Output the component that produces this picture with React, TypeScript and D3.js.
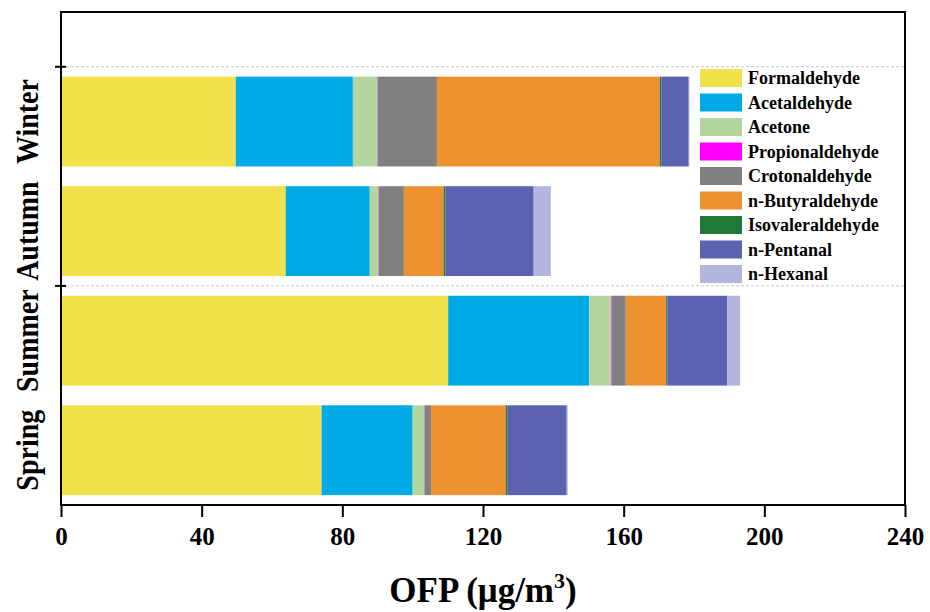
import React, { useEffect, useRef } from 'react';
import * as d3 from 'd3';

const seasons = ['Spring', 'Summer', 'Autumn', 'Winter'];
const compounds = ['Formaldehyde', 'Acetaldehyde', 'Acetone', 'Propionaldehyde', 'Crotonaldehyde',
  'n-Butyraldehyde', 'Isovaleraldehyde', 'n-Pentanal', 'n-Hexanal'];
const compoundColors = ['#f2e14b', '#00aae6', '#b3d69e', '#ff00ff', '#808080',
  '#ee9231', '#1f7a3a', '#5b63b0', '#b4b6dd'];

// OFP per compound, in the order of `compounds`
const spring = [74.1, 25.9, 3.3, 0.1, 1.8, 21.3, 0.5, 16.8, 0.3];
const summer = [110.1, 40.1, 6.3, 0.2, 3.9, 11.5, 0.3, 17.0, 3.7];
const autumn = [63.9, 23.9, 2.5, 0.1, 7.1, 11.3, 0.5, 25.1, 4.9];
const winter = [49.7, 33.3, 7.0, 0.1, 16.8, 63.4, 0.4, 7.8, 0.2];

const xTicks = [0, 40, 80, 120, 160, 200, 240];

const W = 930, H = 612;
const margin = { left: 61, right: 25, top: 12, bottom: 107 };

export default function App() {
  const ref = useRef<SVGSVGElement>(null);

  useEffect(() => {
    const svg = d3.select(ref.current);
    svg.selectAll('*').remove();
    const serif = '"Liberation Serif", "Times New Roman", serif';

    const rows = [spring, summer, autumn, winter].map((vals, i) => {
      const r: any = { season: seasons[i] };
      compounds.forEach((c, j) => (r[c] = vals[j]));
      return r;
    });

    const x = d3.scaleLinear().domain([0, 240]).range([margin.left, W - margin.right]);
    // y is a plain number line: category i sits at i + 0.5
    const y = d3.scaleLinear().domain([0, 4.5]).range([H - margin.bottom, margin.top]);
    const color = d3.scaleOrdinal<string, string>().domain(compounds).range(compoundColors);
    const barH = 0.82;

    const series = d3.stack().keys(compounds)(rows);

    // dashed grid at y = 2, 4
    svg.append('g')
      .selectAll('line')
      .data([2, 4])
      .join('line')
      .attr('x1', x(0)).attr('x2', x(240))
      .attr('y1', d => y(d)).attr('y2', d => y(d))
      .attr('stroke', '#c8c8c8')
      .attr('stroke-dasharray', '3,2')
      .attr('stroke-width', 1);

    svg.append('g')
      .selectAll('g')
      .data(series)
      .join('g')
      .attr('fill', d => color(d.key))
      .selectAll('rect')
      .data(d => d)
      .join('rect')
      .attr('x', d => x(d[0]))
      .attr('width', d => x(d[1]) - x(d[0]))
      .attr('y', (d, i) => y(i + 0.5 + barH / 2))
      .attr('height', y(0) - y(barH));

    // frame
    svg.append('rect')
      .attr('x', x(0)).attr('y', y(4.5))
      .attr('width', x(240) - x(0)).attr('height', y(0) - y(4.5))
      .attr('fill', 'none').attr('stroke', '#000').attr('stroke-width', 2);

    // x axis
    const xAxis = svg.append('g').attr('transform', `translate(0,${y(0)})`)
      .call(d3.axisBottom(x).tickValues(xTicks).tickSize(12).tickPadding(10).tickFormat(d3.format('d')));
    xAxis.select('.domain').remove();
    xAxis.selectAll('line').attr('stroke-width', 2);
    xAxis.selectAll('text')
      .attr('font-family', serif).attr('font-weight', 'bold').attr('font-size', 25).attr('fill', '#000');

    // y ticks at 2 and 4 crossing the axis
    svg.append('g')
      .selectAll('line')
      .data([2, 4])
      .join('line')
      .attr('x1', x(0) - 6).attr('x2', x(0) + 5)
      .attr('y1', d => y(d)).attr('y2', d => y(d))
      .attr('stroke', '#000').attr('stroke-width', 2);

    // season labels (slightly stretched across, like the original)
    svg.append('g')
      .selectAll('text')
      .data(seasons)
      .join('text')
      .attr('transform', (d, i) => `translate(27,${y(i + 0.5)}) rotate(-90) scale(1,1.15)`)
      .attr('text-anchor', 'middle')
      .attr('dominant-baseline', 'central')
      .attr('font-family', serif).attr('font-weight', 'bold').attr('font-size', 28)
      .text(d => d);

    // x title
    const title = svg.append('text')
      .attr('x', (x(0) + x(240)) / 2).attr('y', 602)
      .attr('text-anchor', 'middle')
      .attr('font-family', serif).attr('font-weight', 'bold').attr('font-size', 35);
    title.append('tspan').text('OFP (μg/m');
    title.append('tspan').attr('font-size', 22).attr('dy', -14).text('3');
    title.append('tspan').attr('dy', 14).text(')');

    // legend
    const legend = svg.append('g').attr('transform', 'translate(700,69)');
    const item = legend.selectAll('g')
      .data(compounds)
      .join('g')
      .attr('transform', (d, i) => `translate(0,${i * 24.5})`);
    item.append('rect')
      .attr('width', 42).attr('height', 18)
      .attr('fill', d => color(d));
    item.append('text')
      .attr('x', 48).attr('y', 15)
      .attr('font-family', serif).attr('font-weight', 'bold').attr('font-size', 18)
      .text(d => d);
  }, []);

  return (
    <div style={{ position: 'absolute', left: 0, top: 0, background: '#fff' }}>
      <svg ref={ref} width={W} height={H} />
    </div>
  );
}
